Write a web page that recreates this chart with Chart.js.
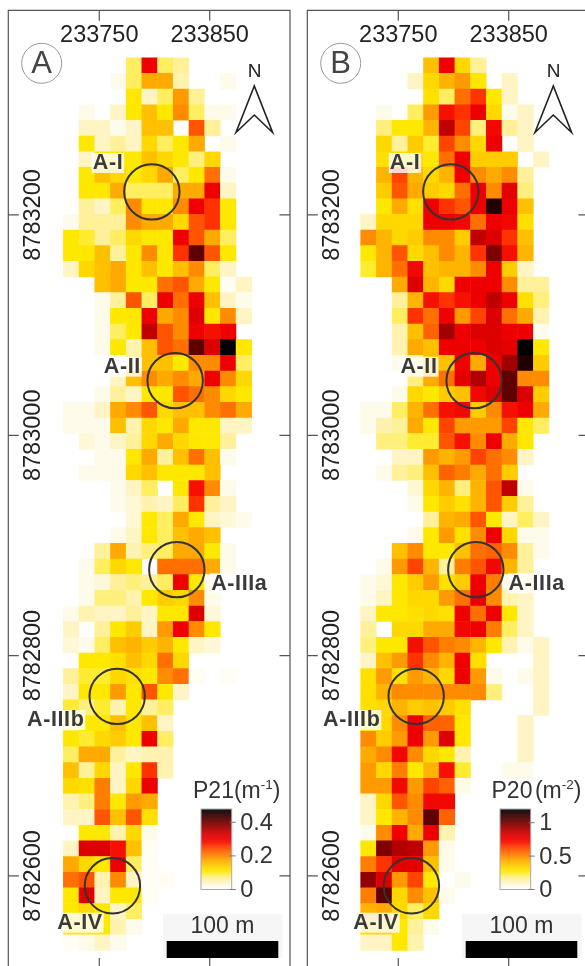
<!DOCTYPE html>
<html><head><meta charset="utf-8">
<style>
html,body{margin:0;padding:0;background:#fff;overflow:hidden;width:585px;height:966px}
canvas{position:absolute;top:0;filter:blur(0.45px)}
#a{left:0}#b{left:299px}
</style>
<script src="https://cdn.jsdelivr.net/npm/chart.js@4/dist/chart.umd.min.js"></script>
</head><body>
<canvas id="a" width="299" height="966"></canvas>
<canvas id="b" width="286" height="966"></canvas>
<script>
// Readings, one row per map row from north to south, one entry per 14.22 m column from the west.
// Entries are steps of the colour scale (0 = no cell); p21Step / p20Step turn a step into m-1 / m-2.
const p21Step = 0.0218, p20Step = 0.0548;
const p21Rows = [
[0,0,0,0,4,14,4,3],
[0,0,0,1,4,8,8,2.5,0,0,1],
[0,0,0,0,5,2,4,8.5,3],
[0,1,0,2,5,7,5,9,4,1,1],
[0,2,2,1,2,7,7,0,11,3],
[0,5,2,3,2,6,4,5,8,0,1],
[0,2,5,5,5,7,6,5,3.5,6],
[0,5,7,6,5,6,8,4,5,10,1],
[0,5,5,8,4,4,4,8,8,14,2],
[0,3,2,4,9,5,5,9,14,12,5],
[1,3,3,3,9,8,8,6,11,12,5],
[5,4.5,3,4,6,5,5,14,11,8,4],
[5,5,7,3,5,9,5,12,19,11,5],
[2,6,7,8,5,7,5,7,9,4,2],
[0,0,7,8,5,5,10,11,8,5,0.5,2],
[0,0,1,3,11,4,14,10,14,7,2,1],
[0,0,1,5,5,14,8,9,15,5,9,2],
[0,0,1,4,5,16,11,9,14,13,14,0],
[0,0,1,5,2.5,7,11,10,19,15,22,5],
[0,0,0,1,3,7,7,5,9,9,14,4],
[0,0,0,2,7,9,8,9,8,14,9,6],
[0,0,1,3,2,5,5,11,10,9,6,5],
[1,1,2,8,9,11,6,7,7,9,10,8],
[1,1,1,7,2.5,6,5,8,5,5,2,2],
[0,1.5,1,2,3,6,8,6,5,5,3],
[0,0,1,1,5,8,3,7,10,7,1],
[0,1,1,1,6,7,5,5,5,7],
[0,0,0,1,2,4,0,5,13,9,1],
[0,0,0,1,1.5,2.5,2,4,12,3,2],
[0,0,0,0,1.5,5,4,8,5,2,1.5,1],
[0,0,0,1,2,5,4,7,8,7],
[0,0,3,8,2.5,3.5,4,8,8,5,1],
[0,1,4,6,5,0,10,10,10,8,1],
[0,1,1.5,3,3.5,3,4,14,5,1],
[0,1,3.5,3.5,2.5,5,6.5,6,9,1],
[1,2.5,2,2,3,2,5,5,15,1.5],
[2,0,3,5,6.5,2,8.5,14,9,5],
[1.5,1,4,7,7.5,6.5,7.5,5,2,1.5],
[0,5,5,5.5,7,6,10,6],
[3,4.5,4.5,6,5.5,5,9,10,0.5,0,0.5],
[2,5,5,8.5,5,11,5,2],
[4.5,3.5,4.5,2.5,5,3,4],
[4,5,5,7,5,7,2],
[5,4.5,6,6.5,5,14,4],
[4,8,8,3,2,2.5,2.5],
[7,3,6,2,5,12,2.5],
[6,5.5,9.5,2,6,14],
[2.5,3.5,9.5,5,8.5,8],
[2,2,11,7,11,5.5],
[0,5,5,2.5,6,1],
[2,15,15,13,7,0.5],
[8,6,5,14,4,0.5],
[10,11,2.5,9,2,0.5,0.5],
[5,15,2,5,5,0.5],
[5,6,5,2,4],
[5,5,5,2.5,1],
[0.5,1,2,1]
];
const p20Rows = [
[0,0,0,0,7,14,6,3],
[0,0,0,2,6,7.5,8.5,5,0,2],
[0,0,0,0,5.5,4,10,12,5,2],
[0,1,0,4,8.5,13,12,14,6,1,2],
[0,3.5,5,5,7.5,16,11.5,3.5,13.5,3,2],
[0,6,3,6.5,4.5,11.5,9,6,14,0,2],
[0,5.5,6,6,5,10,14,6.5,6.5,6.5,0,2],
[0,7.5,11.5,7.5,6,7.5,14,9,8,9,3],
[0,6.5,11,8,6.5,6,10,14,9,14.5,3.5],
[0,5,8,5.5,14,12,11,14,21,14,7],
[2,6,6,6,14,14,13.5,10,14,13.5,5.5],
[9,7.5,6,6.5,9,9,6.5,16,15,12,7],
[5,7.5,11,6,7,9,7.5,12,18,13,7.5],
[4.5,7.5,10,13.5,7,7.5,7.5,9,14,6.5,2],
[0,0,8,15,7.5,6,14,14,14,9,3,3],
[0,0,3,7.5,13,12,13,14,16,14,5.5,3.5],
[0,0,4,12,10,14,8.5,11.5,15,10,8,2.5],
[0,0,2.5,7,10.5,17,14,15,15,14,14,1],
[0,0,2.5,8,7,14,14,14,15,14.5,22,5],
[0,0,1,3,7,7,14,8,14,17,21,6.5],
[0,0,0,3.5,8,10,14.5,16.5,14,19,9,9],
[0,0,1,6,5,6.5,7,13.5,15,19,15,6.5],
[1,1,4,7.5,10,13,13.5,6.5,9,13,14,8],
[1,2.5,3,8,5,11.5,8.5,8.5,8.5,11.5,5,4],
[0,3.5,3.5,4.5,4.5,11,13,9,14,8,5],
[0,0,2,2,8.5,7.5,8.5,11.5,10,9,2],
[0,1,3,3.5,7,10.5,9.5,8,10,6.5],
[0,0,0,1.5,6,7.5,3.5,7.5,11,16,1],
[0,0,0,1,5,6.5,5.5,7.5,11,6.5,3],
[0,0,0,0,3,7.5,8,11,5,2,4,2],
[0,0,0,1,5,8.5,5.5,9,14,6,1,1],
[0,0,7,9,5,5,7,10,10.5,9,3,1],
[0,1,8.5,11.5,7.5,3,9.5,11,13.5,7.5,3],
[1,1.5,5,6.5,8.5,5.5,6.5,14,9.5,1,2],
[1,2,5,6,6,8.5,10,14.5,9,2.5,2],
[2,5,5,5.5,6,5.5,14,10,14,5,2],
[3,0,6,6,8,8,13.5,14,9.5,4,2],
[3.5,5,5,13,11,9.5,9,7.5,5,2.5,1,2],
[2,7,8.5,12,9,7.5,14,5.5,0,0,0,2],
[5.5,8.5,5.5,8.5,7.5,6,14,8.5,1,0,1,2],
[5.5,7.5,9,9,9,9,9,9,3.5,0,0,2],
[5.5,6,7.5,6.5,7,6.5,5.5,0,0,0,0,2],
[5,6,9,14,10.5,10.5,5,0,0,0,2],
[9,6.5,8.5,14,8.5,15,5,0,0,0,2],
[8,9,13.5,9,6,5,2.5,0,0,0,2],
[8.5,6,9.5,5,7.5,13,4.5,0,0,1,1],
[8.5,8.5,13.5,8.5,11.5,10.5,1],
[2,6,11,9,13.5,13.5],
[2,5,7.5,9,19,10.5],
[1,9,14,8,14,2.5],
[5,18,16.5,16,8.5,1],
[9.5,12,14.5,14.5,7,1],
[17.5,15,8.5,11.5,5,0,1],
[9.5,19,6,9,7,1],
[7.5,8,6,4,6],
[6,6,5,3,1],
[2,2,5,2.5]
];
const xTicks = [233750, 233850];
const yTicks = [8783200, 8783000, 8782800, 8782600];
const p21LegendTicks = [0, 0.2, 0.4];
const p20LegendTicks = [0, 0.5, 1];
const zoneNames = ['A-I', 'A-II', 'A-IIIa', 'A-IIIb', 'A-IV'];
const zoneX = [233797.6, 233818.7, 233820.2, 233766.2, 233761.9];
const zoneY = [8783221, 8783049.6, 8782878, 8782763, 8782591];
// Colour scale, bottom to top
const ramp = ['#ffffff','#fffbea','#fff5c4','#fff19a','#ffee60','#ffe800','#ffd800','#ffc000','#ffaa00','#ff8c00','#ff7000','#ff5500','#ff3300','#f51000','#ee0000','#dd0000','#c00000','#a00000','#800000','#600000','#400000','#200000','#000000'];

const rgb = h => [1,3,5].map(i => parseInt(h.substr(i,2),16));
function rampColor(f){
  const p = Math.max(0,Math.min(1,f))*(ramp.length-1), i = Math.min(Math.floor(p),ramp.length-2), t = p-i;
  const a = rgb(ramp[i]), b = rgb(ramp[i+1]);
  return 'rgb('+a.map((v,k)=>Math.round(v+(b[k]-v)*t)).join(',')+')';
}
const CELL = 14.22, GRID_TOP = 8783342.8;
const FONT = '"Liberation Sans", Arial, sans-serif';

function cells(rows, step, west){
  const out = [];
  rows.forEach((row,r)=>row.forEach((s,c)=>{
    if(s>0) out.push({x:west+(c+.5)*CELL, y:GRID_TOP-(r+.5)*CELL, v:s*step});
  }));
  return out;
}

function panel(id, cfg){
  const overlay = {
    id:'overlay',
    afterDatasetsDraw(chart){
      const c = chart.ctx, A = chart.chartArea, X = chart.scales.x, Y = chart.scales.y;
      const L = A.left, T = A.top, R = L+281.7, B = 968;
      c.save();
      // frame and inward ticks
      c.strokeStyle='#555'; c.lineWidth=1.2; c.beginPath();
      c.moveTo(L,B); c.lineTo(L,T); c.lineTo(R,T); c.lineTo(R,B);
      xTicks.forEach(v=>{const p=X.getPixelForValue(v); c.moveTo(p,T); c.lineTo(p,T+10.5); c.moveTo(p,B-10); c.lineTo(p,B);});
      yTicks.forEach(v=>{const p=Y.getPixelForValue(v); c.moveTo(L,p); c.lineTo(L+10.5,p); c.moveTo(R,p); c.lineTo(R-10.5,p);});
      c.stroke();
      c.fillStyle='#222'; c.font='23.5px '+FONT; c.textAlign='center'; c.textBaseline='alphabetic';
      xTicks.forEach(v=>c.fillText(String(v),X.getPixelForValue(v),41.5));
      yTicks.forEach(v=>{c.save(); c.translate(L+25,Y.getPixelForValue(v)); c.rotate(-Math.PI/2); c.textBaseline='middle'; c.fillText(String(v),0,0); c.restore();});
      // panel letter
      c.strokeStyle='#999'; c.lineWidth=1; c.beginPath(); c.arc(41.7,63.3,20,0,7); c.stroke();
      c.fillStyle='#444'; c.font='31px '+FONT; c.textBaseline='middle'; c.fillText(cfg.letter,41.7,64.5);
      // north arrow
      c.fillStyle='#222'; c.font='19px '+FONT; c.fillText('N',254.5,71.5);
      c.strokeStyle='#222'; c.lineWidth=1.6; c.lineJoin='miter'; c.beginPath();
      c.moveTo(254.3,86); c.lineTo(236,132.5); c.lineTo(254.3,115); c.lineTo(272.6,132.5); c.closePath(); c.stroke();
      // zone labels
      c.font='bold 21.5px '+FONT; c.letterSpacing='0.6px'; c.textBaseline='middle';
      zoneNames.forEach((n,i)=>{
        const px=cfg.labelX[i], py=cfg.labelY[i], w=c.measureText(n).width;
        c.fillStyle='rgba(255,255,255,.8)'; c.fillRect(px-w/2-1,py-10,w+2,20);
        c.fillStyle='#3a3a3a'; c.fillText(n,px,py+.5);
      });
      c.letterSpacing='0px';
      // colour bar
      const bx=201, bw=30.7, by0=889.5, perUnit=80.5/cfg.vmax;
      for(let y=0;y<80.5;y+=0.5){ c.fillStyle=rampColor(y/80.5); c.fillRect(bx,by0-y-0.5,bw,0.8); }
      c.strokeStyle='#aaa'; c.lineWidth=1; c.strokeRect(bx,by0-80.5,bw,80.5);
      c.fillStyle='#333'; c.font='23.5px '+FONT; c.textAlign='left'; c.textBaseline='middle';
      c.strokeStyle='#777'; c.beginPath();
      cfg.legendTicks.forEach(v=>{const p=by0-v*perUnit; c.moveTo(bx+bw-2,p); c.lineTo(bx+bw+4,p); c.fillText(String(v),bx+bw+8.5,p+1);});
      c.stroke();
      // colour bar title
      let tx=cfg.titleX; const ty=797.5;
      c.textBaseline='alphabetic'; c.font='23px '+FONT; c.fillText(cfg.t1,tx,ty); tx+=c.measureText(cfg.t1).width+cfg.gap;
      c.fillText('(m',tx,ty); tx+=c.measureText('(m').width;
      c.font='13.5px '+FONT; c.fillText(cfg.sup,tx,ty-9); tx+=c.measureText(cfg.sup).width;
      c.font='23px '+FONT; c.fillText(')',tx,ty);
      // scale bar
      c.fillStyle='rgba(240,240,240,.6)'; c.fillRect(163,914,119.6,44);
      c.fillStyle='#000'; c.fillRect(166.7,941,111.6,17);
      c.fillStyle='#333'; c.textAlign='center'; c.textBaseline='middle'; c.fillText('100 m',222.5,926.5);
      c.restore();
    }
  };
  return new Chart(document.getElementById(id),{
    type:'scatter',
    data:{datasets:[
      {label:'Zones',data:zoneX.map((x,i)=>({x,y:zoneY[i]})),pointRadius:27.7,pointBackgroundColor:'rgba(0,0,0,0)',pointBorderColor:'#333',pointBorderWidth:2,order:0,clip:false},
      {label:cfg.letter,data:cells(cfg.rows,cfg.step,cfg.west),order:1,pointStyle:'rect',pointBorderWidth:0,
       pointBackgroundColor:ctx=>rampColor(ctx.raw.v/cfg.vmax),
       pointRadius:ctx=>{const s=ctx.chart.scales.x; return Math.abs(s.getPixelForValue(s.min+CELL)-s.getPixelForValue(s.min))/Math.SQRT2+0.35;}}
    ]},
    options:{
      responsive:false,animation:false,events:[],
      layout:{autoPadding:false,padding:cfg.padding},
      plugins:{legend:{display:false},tooltip:{enabled:false}},
      scales:{
        x:{type:'linear',display:false,min:cfg.xMin,max:cfg.xMax},
        y:{type:'linear',display:false,min:8782518.2,max:8783385.8}
      }
    },
    plugins:[overlay]
  });
}
panel('a',{letter:'A',rows:p21Rows,step:p21Step,vmax:0.479,west:233717.4,xMin:233667.6,xMax:233922.7,
  padding:{left:8.3,right:9,top:10.3,bottom:0},legendTicks:p21LegendTicks,t1:'P21',sup:'-1',gap:0,titleX:193,
  labelX:[108,122.3,239.3,55.7,80],labelY:[163,366.7,583.3,720,922.7]});
panel('b',{letter:'B',rows:p20Rows,step:p20Step,vmax:1.205,west:233715.9,xMin:233667.6,xMax:233919.1,
  padding:{left:8.3,right:0,top:10.3,bottom:0},legendTicks:p20LegendTicks,t1:'P20',sup:'-2',gap:2.5,titleX:192.5,
  labelX:[106,120,237.7,52.7,77],labelY:[163,366.7,583.3,720,922.7]});
</script>
</body></html>
